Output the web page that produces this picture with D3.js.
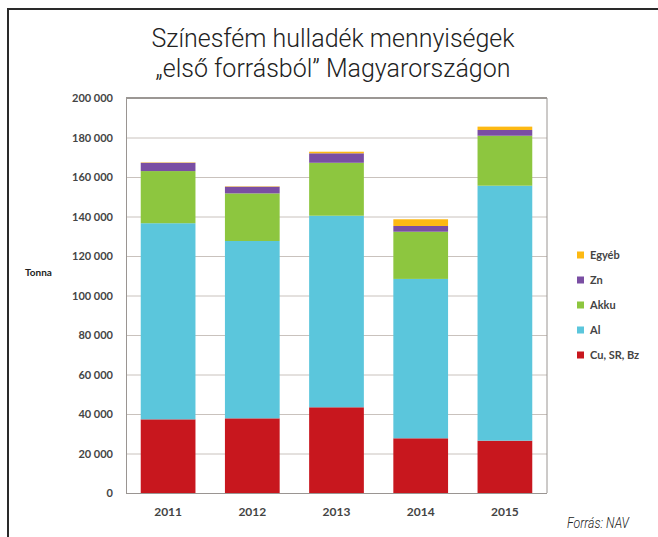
<!DOCTYPE html>
<html><head><meta charset="utf-8">
<script src="https://cdn.jsdelivr.net/npm/d3@7/dist/d3.min.js"></script>
<style>body{margin:0;background:#fff}svg{display:block}</style>
</head><body>
<svg id="c" width="658" height="537"></svg>
<script>
const years = ["2011","2012","2013","2014","2015"];
const cuSrBz = [37300, 37800, 43400, 27700, 26500];
const al     = [99300, 89800, 97000, 80700, 129100];
const akku   = [26400, 24100, 26800, 23900, 25300];
const zn     = [4200, 3400, 4800, 2900, 2900];
const egyeb  = [200, 200, 800, 3400, 1700];
const seriesNames = ["Cu, SR, Bz","Al","Akku","Zn","Egyéb"];
const seriesColors = ["#c8171e","#5bc6dc","#8dc63f","#7a4ea3","#fdb913"];
const yTicks = [0,20000,40000,60000,80000,100000,120000,140000,160000,180000,200000];

const rows = years.map((y,i)=>({year:y,"Cu, SR, Bz":cuSrBz[i],"Al":al[i],"Akku":akku[i],"Zn":zn[i],"Egyéb":egyeb[i]}));
const stacked = d3.stack().keys(seriesNames)(rows);

const svg = d3.select("#c");
const L=126,R=547,T=98,B=493;
const x = d3.scaleBand().domain(years).range([L,R]).paddingInner(0.35).paddingOuter(0.175);
const y = d3.scaleLinear().domain([0,200000]).range([B,T]);
const color = d3.scaleOrdinal().domain(seriesNames).range(seriesColors);

// frame
svg.append("path").attr("d","M8,537V9H658").attr("fill","none").attr("stroke","#2a2a2a").attr("stroke-width",2);

// title
const title = svg.append("text").attr("text-anchor","middle")
  .attr("font-family","Roboto").attr("font-weight",300).attr("font-size",25).attr("fill","#222");
title.append("tspan").attr("x",333).attr("y",47).text("Színesfém hulladék mennyiségek");
title.append("tspan").attr("x",333).attr("y",77).text("„első forrásból” Magyarországon");

// gridlines
svg.append("g").selectAll("line").data(yTicks.slice(1,-1)).join("line")
  .attr("x1",L).attr("x2",R).attr("y1",d=>y(d)+0.5).attr("y2",d=>y(d)+0.5)
  .attr("stroke","#c9c2bd").attr("stroke-width",1);

// bars
svg.append("g").selectAll("g").data(stacked).join("g").attr("fill",d=>color(d.key))
  .selectAll("rect").data(d=>d).join("rect")
  .attr("x",d=>x(d.data.year)).attr("width",x.bandwidth())
  .attr("y",d=>y(d[1])).attr("height",d=>y(d[0])-y(d[1]));

// plot border
svg.append("line").attr("x1",L).attr("x2",R).attr("y1",T).attr("y2",T).attr("stroke","#7a7471").attr("stroke-width",1.5);
svg.append("line").attr("x1",R).attr("x2",R).attr("y1",T).attr("y2",B).attr("stroke","#9a9592").attr("stroke-width",1);

// y axis
const ya = svg.append("g").attr("transform",`translate(${L},0)`)
  .call(d3.axisLeft(y).tickValues(yTicks).tickSize(0).tickPadding(13)
    .tickFormat(d=>d3.format(",")(d).replace(/,/g," ")));
ya.select(".domain").attr("stroke","#9a9592");
ya.selectAll("text").attr("font-family","Lato").attr("font-weight",700).attr("font-size",11).attr("fill","#444");

// x axis
const xa = svg.append("g").attr("transform",`translate(0,${B})`)
  .call(d3.axisBottom(x).tickSize(0).tickPadding(14));
xa.select(".domain").attr("stroke","#9a9592").attr("d",`M${L},0.5H${R}`);
xa.selectAll("text").attr("font-family","Lato").attr("font-weight",700).attr("font-size",12).attr("fill","#444");

// y label
svg.append("text").attr("x",25).attr("y",276).attr("font-family","Lato").attr("font-weight",700)
  .attr("font-size",10).attr("fill","#222").text("Tonna");

// legend
const legOrder = seriesNames.slice().reverse();
const lg = svg.append("g").selectAll("g").data(legOrder).join("g")
  .attr("transform",(d,i)=>`translate(577,${255+i*25})`);
lg.append("rect").attr("x",0).attr("y",-3.5).attr("width",7).attr("height",7).attr("fill",d=>color(d));
lg.append("text").attr("x",13).attr("y",4).attr("font-family","Lato").attr("font-weight",700)
  .attr("font-size",11).attr("fill","#444").text(d=>d);

// source
svg.append("text").attr("x",567).attr("y",528).attr("font-family","Roboto").attr("font-style","italic")
  .attr("font-weight",300).attr("font-size",15).attr("fill","#222")
  .attr("textLength",62).attr("lengthAdjust","spacingAndGlyphs").text("Forrás: NAV");
</script>
</body></html>
